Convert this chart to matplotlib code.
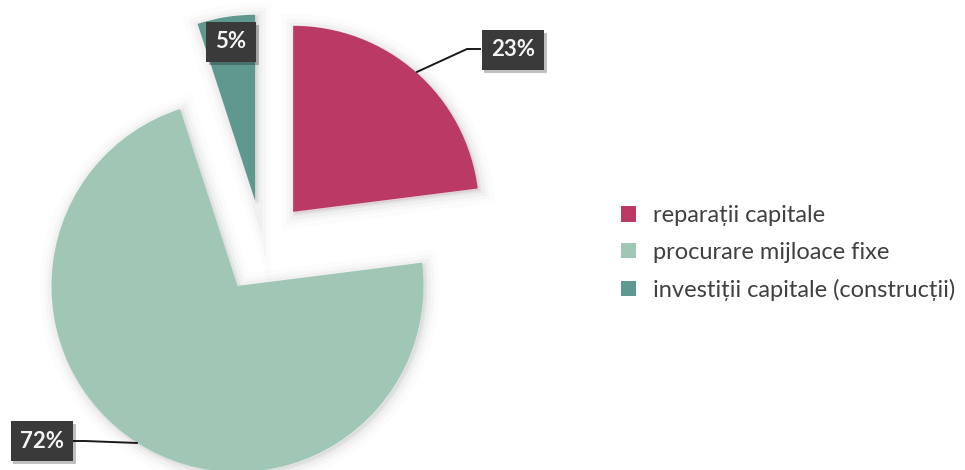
import numpy as np
import matplotlib
matplotlib.use("Agg")
import matplotlib.pyplot as plt
import matplotlib.patheffects as pe

# Shares of capital spending
categories = ["reparații capitale", "procurare mijloace fixe", "investiții capitale (construcții)"]
shares = [23, 72, 5]
colors = ["#BA3A65", "#A0C6B5", "#5F988E"]
pct_labels = ["23%", "72%", "5%"]

W, H = 965, 470
fig = plt.figure(figsize=(W / 100, H / 100), dpi=100)
ax = fig.add_axes([0, 0, 1, 1])

center = (262.4, 223.3)
radius = 186
gap = 0.25 * radius  # every slice pulled out by a quarter of the radius
wedges, _ = ax.pie(shares, colors=colors, startangle=90, counterclock=False,
                   explode=[gap] * len(shares), radius=radius, center=center,
                   wedgeprops=dict(linewidth=0))

ax.set_xlim(0, W)
ax.set_ylim(0, H)
ax.set_aspect("auto")
ax.axis("off")

leg = ax.legend(wedges, categories, loc="center left", bbox_to_anchor=(621 / W, 217 / H),
                frameon=False, borderpad=0, borderaxespad=0,
                handlelength=0.62, handleheight=0.62, handletextpad=0.72,
                labelspacing=0.66,
                prop=dict(family="Lato", size=17))
for t in leg.get_texts():
    t.set_color("#404040")

# soft outer shadow around each slice
shadow = [pe.Stroke(linewidth=lw, foreground="black", alpha=a, offset=(1.5, -1.5))
          for lw, a in [(20, 0.012), (13, 0.02), (8, 0.028), (3, 0.045)]]
for w in wedges:
    w.set_path_effects(shadow + [pe.Normal()])


def edge_point(w):
    mid = np.deg2rad((w.theta1 + w.theta2) / 2)
    cx, cy = w.center
    return cx + w.r * np.cos(mid), cy + w.r * np.sin(mid)


box_style = dict(boxstyle="square,pad=0.42", fc="#3A3A3A", ec="none")
box_shadow = [pe.SimplePatchShadow(offset=(2, -2), shadow_rgbFace="black", alpha=0.25), pe.Normal()]


def label(text, xy):
    t = ax.text(xy[0], xy[1], text, ha="center", va="center", color="#F4F4F4",
                fontsize=16, fontweight="bold", family="Lato", bbox=box_style, zorder=5)
    t.get_bbox_patch().set_path_effects(box_shadow)
    return t


# 23% with leader line
ax0, ay0 = edge_point(wedges[0])
ax.plot([ax0, 467, 481], [ay0, 421, 421], color="#1a1a1a", lw=1.4, zorder=4,
        solid_capstyle="butt")
label(pct_labels[0], (513, 420))

# 72% with leader line
ax1, ay1 = edge_point(wedges[1])
ax.plot([ax1, 85, 72], [ay1, 29, 29], color="#1a1a1a", lw=1.4, zorder=4,
        solid_capstyle="butt")
label(pct_labels[1], (42, 29))

# 5% sits on its own slice
label(pct_labels[2], (231, 428))

fig.savefig("out.png", dpi=100, facecolor="white")
